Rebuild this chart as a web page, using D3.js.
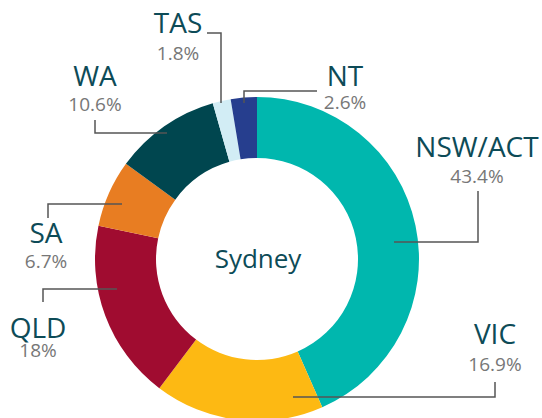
<!DOCTYPE html>
<html>
<head>
<meta charset="utf-8">
<script src="https://cdn.jsdelivr.net/npm/d3@7"></script>
<style>
  html, body { margin: 0; padding: 0; background: #fff; }
  svg { display: block; font-family: "Open Sans", sans-serif; }
</style>
</head>
<body>
<svg id="chart" width="542" height="418"></svg>
<script>
// Data
const categories = ["NSW/ACT", "VIC", "QLD", "SA", "WA", "TAS", "NT"];
const values = [43.4, 16.9, 18, 6.7, 10.6, 1.8, 2.6];
const valueLabels = ["43.4%", "16.9%", "18%", "6.7%", "10.6%", "1.8%", "2.6%"];
const centerLabel = "Sydney";

// Styles
const colors = ["#00b7ae", "#fdb913", "#a00c30", "#e87d22", "#00464f", "#d2edf5", "#263e8e"];

// Label layout: text centre x, name baseline, value baseline, leader polyline
const labelLayout = [
  { x: 477, ny: 157, vy: 183, line: [[478, 191], [478, 242], [394, 242]] },
  { x: 495, ny: 344, vy: 371, line: [[495, 382], [495, 397], [293, 397]] },
  { x: 38,  ny: 338, vy: 357, line: [[43, 302], [43, 289], [117, 289]] },
  { x: 46,  ny: 243, vy: 268, line: [[48, 218], [48, 204], [122, 204]] },
  { x: 95,  ny: 86,  vy: 111, line: [[95, 120], [95, 133], [167, 133]] },
  { x: 178, ny: 33,  vy: 60,  line: [[207, 33], [221, 33], [221, 103]] },
  { x: 345, ny: 86,  vy: 109, line: [[244, 103], [244, 91], [317, 91]] }
];

const svg = d3.select("#chart");
const cx = 257, cy = 259, R = 162, r = 101;

const data = categories.map((c, i) => ({ name: c, value: values[i], label: valueLabels[i], color: colors[i], layout: labelLayout[i] }));

const pie = d3.pie().value(d => d.value).sort(null);
const arc = d3.arc().innerRadius(r).outerRadius(R);

const g = svg.append("g").attr("transform", `translate(${cx},${cy})`);
g.selectAll("path.slice")
  .data(pie(data))
  .join("path")
  .attr("class", "slice")
  .attr("d", arc)
  .attr("fill", d => d.data.color);

g.append("text")
  .attr("x", 1).attr("y", 9)
  .attr("text-anchor", "middle")
  .attr("font-size", 26)
  .attr("fill", "#0d4b57")
  .text(centerLabel);

const line = d3.line();
svg.selectAll("path.leader")
  .data(data)
  .join("path")
  .attr("class", "leader")
  .attr("d", d => line(d.layout.line))
  .attr("fill", "none")
  .attr("stroke", "#555")
  .attr("stroke-width", 1.5);

svg.selectAll("text.name")
  .data(data)
  .join("text")
  .attr("class", "name")
  .attr("x", d => d.layout.x)
  .attr("y", d => d.layout.ny)
  .attr("text-anchor", "middle")
  .attr("font-size", 28)
  .attr("fill", "#0d4b57")
  .text(d => d.name);

svg.selectAll("text.val")
  .data(data)
  .join("text")
  .attr("class", "val")
  .attr("x", d => d.layout.x)
  .attr("y", d => d.layout.vy)
  .attr("text-anchor", "middle")
  .attr("font-size", 19)
  .attr("fill", "#777")
  .text(d => d.label);
</script>
</body>
</html>
